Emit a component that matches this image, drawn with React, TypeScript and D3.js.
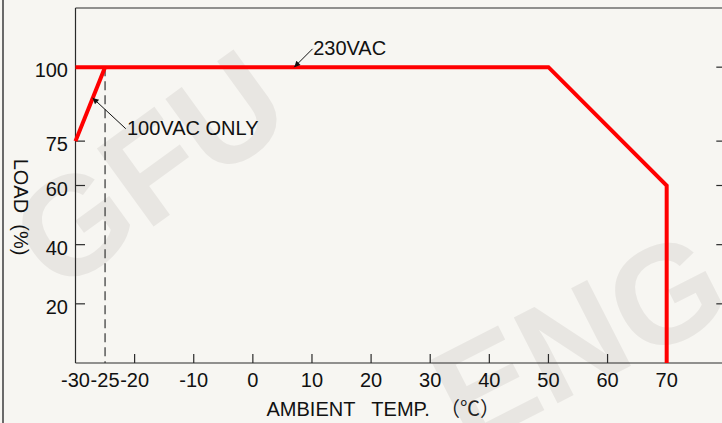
import React from "react";
import * as d3 from "d3";

// ---- data ----
const temp230: number[] = [-30, 50, 70, 70];
const load230: number[] = [100, 100, 60, 0];
const temp100: number[] = [-30, -25];
const load100: number[] = [75, 100];
const xTickValues: number[] = [-20, -10, 0, 10, 20, 30, 40, 50, 60, 70, 80];
const xTickLabels: number[] = [-30, -25, -20, -10, 0, 10, 20, 30, 40, 50, 60, 70];
const yTickValues: number[] = [20, 40, 60, 75, 100];
const dashedTemp = -25;
const annotations = [
  { text: "230VAC", tip: [7.0, 100], tail: [10.1, 106.2], at: [10.2, 104.1] },
  { text: "100VAC ONLY", tip: [-27.1, 89.6], tail: [-21.5, 79.2], at: [-21.3, 77.1] },
];

const W = 722;
const H = 423;
const FONT = "'Liberation Sans', Arial, Helvetica, sans-serif";
const CJK = "'Noto Sans CJK JP', 'Noto Sans CJK SC', sans-serif";

export default function App() {
  const x = d3.scaleLinear().domain([-30, 80]).range([75.5, 725.8]);
  const y = d3.scaleLinear().domain([0, 120]).range([363, 8]);
  const line = d3
    .line<[number, number]>()
    .x((d) => x(d[0]))
    .y((d) => y(d[1]));
  const pts230 = temp230.map((t, i) => [t, load230[i]] as [number, number]);
  const pts100 = temp100.map((t, i) => [t, load100[i]] as [number, number]);
  const x0 = x(-30);
  const xR = x(80);
  const yB = y(0);
  const yT = y(120);
  const fs = 20;

  return (
    <div style={{ position: "fixed", left: 0, top: 0, width: W, height: H }}>
      <svg width={W} height={H} style={{ display: "block" }} fontFamily={FONT}>
        <defs>
          <marker id="arr" viewBox="0 0 10 10" refX="10" refY="5" markerWidth="9" markerHeight="6" markerUnits="userSpaceOnUse" orient="auto">
            <path d="M0,0 L10,5 L0,10 z" fill="#111" />
          </marker>
        </defs>
        <rect x={0} y={0} width={W} height={H} fill="#f7f6f2" />
        {/* watermark */}
        <g fill="#e8e6e2" fontWeight="bold" fontSize={140} fontFamily={FONT}>
          <text x={0} y={0} transform="translate(58,296) rotate(-36)">GFU</text>
          <text x={0} y={0} transform="translate(466,450) rotate(-27)">ENG</text>
        </g>
        {/* left page border */}
        <line x1={3} x2={3} y1={0} y2={H} stroke="#6a6a6a" strokeWidth={2} />
        {/* frame */}
        <line x1={x0} x2={xR} y1={yT} y2={yT} stroke="#2a2a2a" strokeWidth={1.2} />
        <line x1={x0} x2={x0} y1={yT} y2={yB} stroke="#2a2a2a" strokeWidth={1.2} />
        <line x1={x0} x2={xR} y1={yB} y2={yB} stroke="#2a2a2a" strokeWidth={1.2} />
        <line x1={xR} x2={xR} y1={yT} y2={yB} stroke="#2a2a2a" strokeWidth={1.2} />
        {/* x ticks (inward) */}
        {xTickValues.map((v) => (
          <line key={"xt" + v} x1={x(v)} x2={x(v)} y1={yB} y2={yB - 9} stroke="#2a2a2a" strokeWidth={1.2} />
        ))}
        {/* y ticks left and right (inward) */}
        {yTickValues.map((v) => (
          <g key={"yt" + v}>
            <line x1={x0} x2={x0 + 9.5} y1={y(v)} y2={y(v)} stroke="#2a2a2a" strokeWidth={1.2} />
            <line x1={xR} x2={xR - 9.5} y1={y(v)} y2={y(v)} stroke="#2a2a2a" strokeWidth={1.2} />
          </g>
        ))}
        {/* tick labels */}
        {xTickLabels.map((v) => (
          <text key={"xl" + v} x={x(v)} y={yB + 24} textAnchor="middle" fontSize={fs} fill="#111">
            {String(v)}
          </text>
        ))}
        {yTickValues.map((v) => (
          <text key={"yl" + v} x={x0 - 7.5} y={y(v) + 10} textAnchor="end" fontSize={fs} fill="#111">
            {String(v)}
          </text>
        ))}
        {/* dashed line at -25 */}
        <line x1={x(dashedTemp)} x2={x(dashedTemp)} y1={y(100)} y2={yB} stroke="#333" strokeWidth={1.2} strokeDasharray="9,5" />
        {/* curves */}
        <path d={line(pts100) || ""} fill="none" stroke="#ff0000" strokeWidth={4} strokeLinejoin="miter" />
        <path d={line(pts230) || ""} fill="none" stroke="#ff0000" strokeWidth={4} strokeLinejoin="miter" />
        {/* annotations */}
        {annotations.map((a) => (
          <g key={a.text}>
            <line x1={x(a.tail[0])} y1={y(a.tail[1])} x2={x(a.tip[0])} y2={y(a.tip[1])} stroke="#111" strokeWidth={1} markerEnd="url(#arr)" />
            <text x={x(a.at[0])} y={y(a.at[1])} fontSize={fs} fill="#111">
              {a.text}
            </text>
          </g>
        ))}
        {/* axis titles */}
        <text x={266.5} y={416} fontSize={fs} fill="#111" style={{ whiteSpace: "pre" }}>
          {"AMBIENT   TEMP."}
        </text>
        <text x={440} y={416} fontSize={fs} fill="#222" fontFamily={CJK}>
          {"（℃）"}
        </text>
        <text transform="translate(14,207) rotate(90)" textAnchor="middle" fontSize={fs} fill="#111" style={{ whiteSpace: "pre" }}>
          {"LOAD  (%)"}
        </text>
      </svg>
    </div>
  );
}
